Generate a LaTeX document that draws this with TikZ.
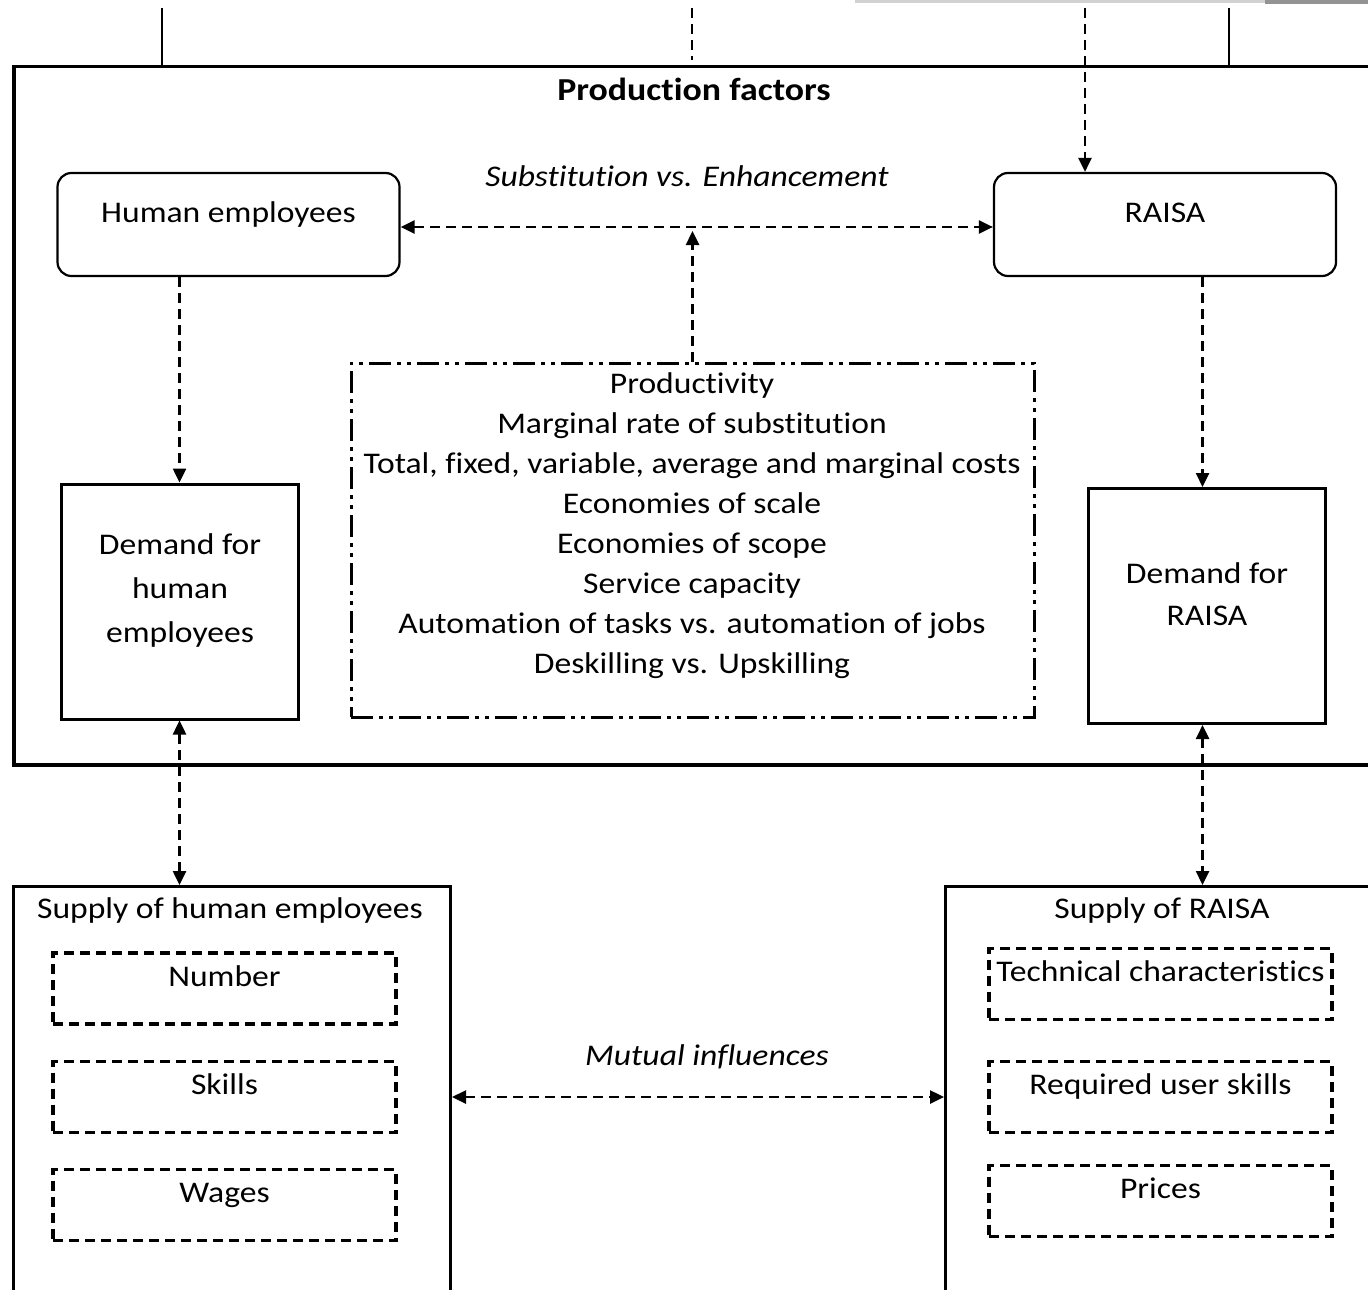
\documentclass[tikz,border=0pt]{standalone}
\usepackage{fontspec}
\setmainfont{Carlito}[FakeStretch=1.12,Ligatures=NoCommon]
\usetikzlibrary{arrows.meta}

\begin{document}
\begin{tikzpicture}[x=0.5pt,y=-0.5pt,>={Triangle[width=6.5pt,length=7pt]},
        font=\fontsize{15}{20}\selectfont,
        dline/.style={line width=1.25pt,dash pattern=on 5pt off 3pt},
        rbox/.style={draw,line width=1.1pt,rounded corners=7pt,minimum width=171pt,
          minimum height=51.5pt,text height=21.5pt,text depth=24pt,inner sep=3pt},
        dbox/.style={draw,line width=1.5pt,minimum width=118.5pt,minimum height=117.5pt},
        sbox/.style={draw,line width=1.5pt,anchor=north west,minimum height=215pt},
        subbox/.style={draw,line width=1.6pt,dash pattern=on 5pt off 3pt,minimum width=171.5pt,
          minimum height=35.5pt,text height=13.5pt,text depth=16pt,inner sep=3pt}]
        \useasboundingbox (0,0) rectangle (1368,1289);
        \clip (0,0) rectangle (1368,1289);
        % background
        \fill[gray!35] (855,0) rectangle (1265,3);
        \fill[gray!85] (1265,0) rectangle (1368,4);
        % production factors
        \node[draw,line width=1.75pt,anchor=north west,minimum width=684pt,minimum height=349pt] (prod) at (12,65) {};
        \node[font=\fontsize{16}{18}\selectfont\bfseries] (prodtitle) at (694,89) {Production factors};
        \node[rbox] (hum) at (228.5,224.5) {Human employees};
        \node[rbox] (raisa) at (1165,224.5) {RAISA};
        \node[font=\fontsize{15}{18}\selectfont\itshape] (subst) at (687,176) {Substitution vs. Enhancement};
        \node[draw,line width=1.5pt,dash pattern=on 11pt off 3pt on 2pt off 3pt on 2pt off 3pt,
          minimum width=341.5pt,minimum height=177pt] (ddbox) at (692.5,540) {};
        \node[align=center] (ddtext) at (692,526) {Productivity\\Marginal rate of substitution\\
          Total, fixed, variable, average and marginal costs\\Economies of scale\\Economies of scope\\
          Service capacity\\Automation of tasks vs. automation of jobs\\Deskilling vs. Upskilling};
        \node[dbox] (dh) at (179.5,601.5) {};
        \node[align=center] (dhtext) at (180,590) {Demand for\\[2pt]human\\[2pt]employees};
        \node[dbox] (dr) at (1206.5,606) {};
        \node[align=center] (drtext) at (1207,594) {Demand for\\[1pt]RAISA};
        % supply
        \node[sbox,minimum width=218.5pt] (suph) at (12,885) {};
        \node (suphtitle) at (230,910) {Supply of human employees};
        \node[sbox,minimum width=220pt] (supr) at (944,885) {};
        \node (suprtitle) at (1162,910) {Supply of RAISA};
        \foreach \n/\y/\t in {num/988.5/Number,skl/1097/Skills,wag/1205/Wages}
          \node[subbox] (\n) at (224.5,\y) {\t};
        \foreach \n/\y/\t in {tech/984/Technical characteristics,req/1097/Required user skills,pri/1201/Prices}
          \node[subbox] (\n) at (1160.5,\y) {\t};
        \node[font=\fontsize{15}{18}\selectfont\itshape] (mut) at (707,1057) {Mutual influences};
        % connectors
        \coordinate (t1) at (162,8);
        \coordinate (t2) at (692,8);
        \coordinate (t3) at (1085,8);
        \coordinate (t4) at (1229,8);
        \draw[line width=1pt] (t1) -- (t1 |- prod.north);
        \draw[dline] (t2) -- ++(0,52);
        \draw[dline,->] (t3) -- (t3 |- raisa.north);
        \draw[line width=1pt] (t4) -- (t4 |- prod.north);
        \draw[dline,<->] ([yshift=-1.25pt]hum.east) -- ([yshift=-1.25pt]raisa.west);
        \draw[dline,->,shorten >=2pt] (ddbox.north) -- ([yshift=-1.25pt]ddbox.north |- hum.east);
        \draw[dline,->] (dh.north |- hum.south) -- (dh.north);
        \draw[dline,->] ([xshift=-2pt]dr.north |- raisa.south) -- ([xshift=-2pt]dr.north);
        \draw[dline,<->] (dh.south) -- (dh.south |- suph.north);
        \draw[dline,<->] ([xshift=-2pt]dr.south) -- ([xshift=-2pt]dr.south |- supr.north);
        \draw[dline,<->] (suph.east |- skl.east) -- (supr.west |- req.west);
      \end{tikzpicture}
\end{document}
